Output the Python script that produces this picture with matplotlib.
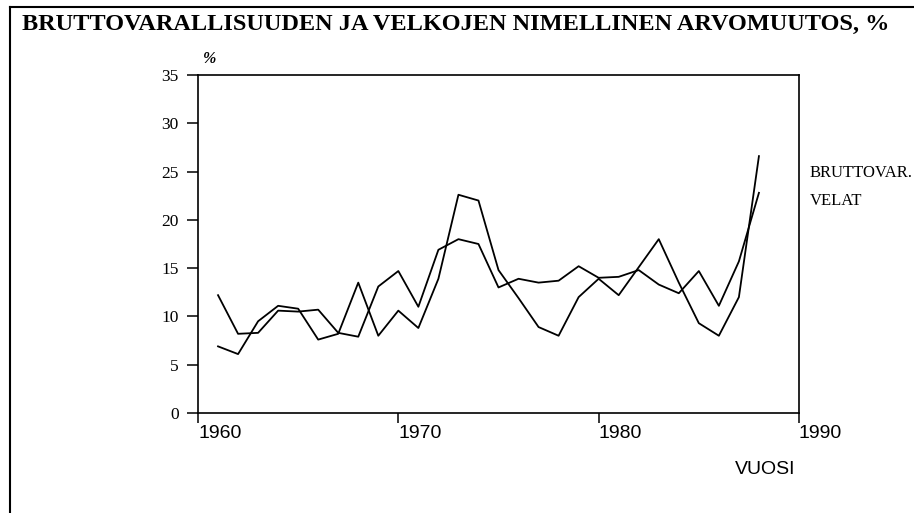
#!/usr/bin/python3

import numpy as np
import matplotlib.pyplot as plt
from matplotlib.lines import Line2D


# Vuodet ja arvomuutokset (%)
years = np.arange(1961, 1989)

bruttovar = [6.9, 6.1, 9.5, 11.1, 10.8, 7.6, 8.2, 13.5, 8.0, 10.6,
             8.8, 13.9, 22.6, 22.0, 14.8, 11.9, 8.9, 8.0, 12.0, 13.9,
             12.2, 15.1, 18.0, 13.5, 9.3, 8.0, 12.0, 26.6]

velat = [12.2, 8.2, 8.3, 10.6, 10.5, 10.7, 8.3, 7.9, 13.1, 14.7,
         11.0, 16.9, 18.0, 17.5, 13.0, 13.9, 13.5, 13.7, 15.2, 14.0,
         14.1, 14.8, 13.3, 12.4, 14.7, 11.1, 15.7, 22.8]

series_labels = ["BRUTTOVAR.", "VELAT"]
x_ticks = [1960, 1970, 1980, 1990]
y_ticks = [0, 5, 10, 15, 20, 25, 30, 35]

title = "BRUTTOVARALLISUUDEN JA VELKOJEN NIMELLINEN ARVOMUUTOS, %"


def draw_chart(output_filepath="out.png"):
    W, H = 914, 513
    fig = plt.figure(figsize=(W / 100, H / 100), dpi=100)

    # akselin paikka pikseleinä
    left, right, top, bottom = 198, 799, 75, 413
    ax = fig.add_axes([left / W, 1 - bottom / H, (right - left) / W, (bottom - top) / H])

    ax.plot(years, bruttovar, color="black", linewidth=1.3)
    ax.plot(years, velat, color="black", linewidth=1.3)

    ax.set_xlim(1960, 1990)
    ax.set_ylim(0, 35)
    ax.set_xticks(x_ticks)
    ax.set_yticks(y_ticks)
    ax.set_xticklabels([str(t) for t in x_ticks], fontsize=14, family="Liberation Sans")
    ax.set_yticklabels([str(t) for t in y_ticks], fontsize=12.5, family="Liberation Serif")
    for lab in ax.get_xticklabels():
        lab.set_horizontalalignment("left")

    ax.tick_params(axis="y", direction="out", length=8, width=1.1, pad=6)
    ax.tick_params(axis="x", direction="out", length=7, width=1.1, pad=2)
    for s in ax.spines.values():
        s.set_linewidth(1.2)

    # sarjojen nimet oikealla
    fig.text(810 / W, 1 - 173 / H, series_labels[0], fontsize=12,
             family="Liberation Serif", ha="left", va="center")
    fig.text(810 / W, 1 - 201 / H, series_labels[1], fontsize=12,
             family="Liberation Serif", ha="left", va="center")

    fig.text(210 / W, 1 - 59 / H, "%", fontsize=11.5, family="Liberation Serif",
             style="italic", fontweight="bold", ha="center", va="center")
    fig.text(795 / W, 1 - 470 / H, "VUOSI", fontsize=14, family="Liberation Sans",
             ha="right", va="center")

    fig.text(22 / W, 1 - 24 / H, title, fontsize=17.5, fontweight="bold",
             family="Liberation Serif", ha="left", va="center")

    # kehys (ylä- ja vasen reuna)
    fig.add_artist(Line2D([10 / W, 1], [1 - 7 / H, 1 - 7 / H], color="black",
                          linewidth=1.5, transform=fig.transFigure))
    fig.add_artist(Line2D([10 / W, 10 / W], [0, 1 - 7 / H], color="black",
                          linewidth=1.5, transform=fig.transFigure))

    plt.savefig(output_filepath, dpi=100)


if __name__ == '__main__':
    draw_chart()
